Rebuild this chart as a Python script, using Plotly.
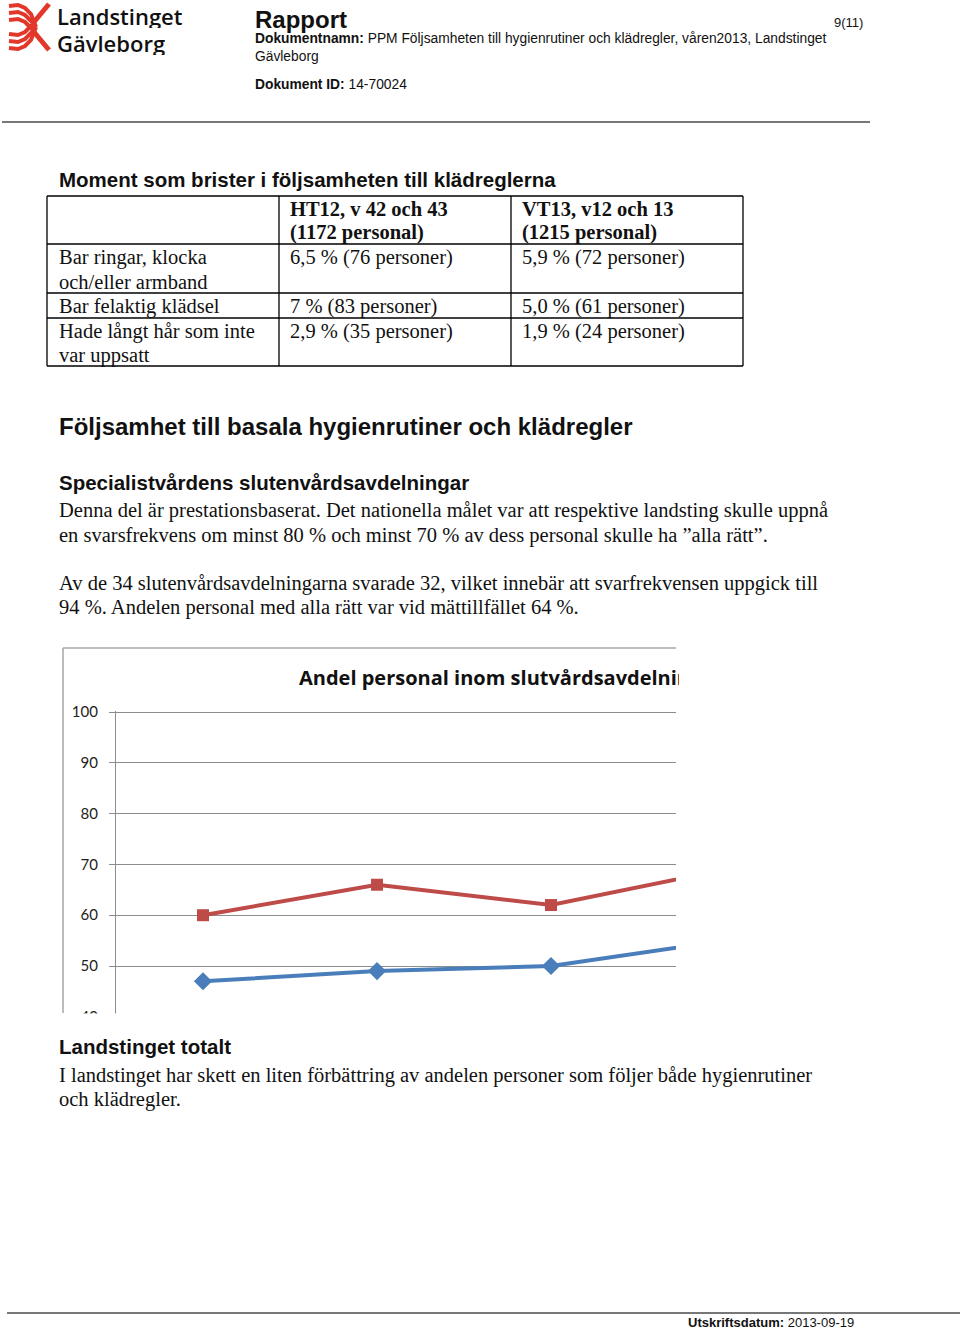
import plotly.graph_objects as go

W, H = 960, 1331

# ---------------- data ----------------
categories = ["Mätning 1", "Mätning 2", "Mätning 3", "Mätning 4"]
series_blue_name = "Följer hygienrutiner och klädregler"
series_blue = [47, 49, 50, 55]
series_red_name = "Följer hygienrutiner"
series_red = [60, 66, 62, 69]
y_ticks = [40, 50, 60, 70, 80, 90, 100]

table_header = [["HT12, v 42 och 43", "(1172 personal)"], ["VT13, v12 och 13", "(1215 personal)"]]
table_rows = [
    (["Bar ringar, klocka", "och/eller armband"], "6,5 % (76 personer)", "5,9 % (72 personer)"),
    (["Bar felaktig klädsel"], "7 % (83 personer)", "5,0 % (61 personer)"),
    (["Hade långt hår som inte", "var uppsatt"], "2,9 % (35 personer)", "1,9 % (24 personer)"),
]

def X(px):
    return px / W

def Y(py):
    return 1 - py / H

SANS = "Liberation Sans, Arial, sans-serif"
SERIF = "Liberation Serif, Times New Roman, serif"
CAL = "Open Sans, Lato, sans-serif"

annotations = []
shapes = []

def txt(x, y, text, size, family=SANS, color="#111", xanchor="left", width=None, height=None, weight=None):
    a = dict(x=X(x), y=Y(y), xref="paper", yref="paper", text=text, showarrow=False,
             xanchor=xanchor, yanchor="middle", align="left",
             font=dict(size=size, family=family, color=color))
    if weight:
        a["font"]["weight"] = weight
    if width:
        a["width"] = width
    if height:
        a["height"] = height
    annotations.append(a)

def line(x0, y0, x1, y1, color="#000", width=1):
    shapes.append(dict(type="line", xref="paper", yref="paper", x0=X(x0), y0=Y(y0), x1=X(x1), y1=Y(y1),
                       line=dict(color=color, width=width)))

def path(pts, color, width):
    d = "M " + " L ".join(f"{X(a):.5f},{Y(b):.5f}" for a, b in pts)
    shapes.append(dict(type="path", xref="paper", yref="paper", path=d, line=dict(color=color, width=width)))

# ---------------- header ----------------
RED = "#E2382B"
# logo symbol (approximate)
for yy in [6, 13, 20]:
    path([(9, yy), (18, yy - 1), (25, yy + 2), (31, yy + 8), (36, 27)], RED, 4)
for yy in [48, 41, 34]:
    path([(9, yy), (18, yy + 1), (25, yy - 2), (31, yy - 8), (36, 27)], RED, 4)
path([(49, 4), (34, 22)], RED, 5)
path([(49, 50), (34, 32)], RED, 5)

txt(55, 15.5, "Landstinget", 22, "Open Sans, sans-serif", "#111", height=25, weight=600)
txt(55, 42, "Gävleborg", 22, "Open Sans, sans-serif", "#111", height=25, weight=600)

txt(253, 19, "<b>Rapport</b>", 24)
txt(253, 39, "<b>Dokumentnamn:</b> PPM Följsamheten till hygienrutiner och klädregler, våren2013, Landstinget", 13.8)
txt(253, 56, "Gävleborg", 13.8)
txt(253, 84, "<b>Dokument ID:</b> 14-70024", 13.8)
txt(832, 23, "9(11)", 13)
line(2, 122, 870, 122, "#777", 2)

# ---------------- table ----------------
txt(57, 180, "<b>Moment som brister i följsamheten till klädreglerna</b>", 20.5)
tx0, tx1, tx2, tx3 = 47, 279, 511, 743
ty = [196, 244, 293, 318, 366]
for yy in ty:
    line(tx0, yy, tx3, yy, "#000", 1.3)
for xx in [tx0, tx1, tx2, tx3]:
    line(xx, ty[0], xx, ty[-1], "#000", 1.3)
for ci, hdr in enumerate(table_header):
    cx = [288, 520][ci]
    for li, t in enumerate(hdr):
        txt(cx, 209 + 24 * li, f"<b>{t}</b>", 20.5, SERIF)
for ri, (lbl, v1, v2) in enumerate(table_rows):
    top = ty[ri + 1]
    for li, t in enumerate(lbl):
        txt(57, top + 14 + 24 * li, t, 20.5, SERIF)
    txt(288, top + 14, v1, 20.5, SERIF)
    txt(520, top + 14, v2, 20.5, SERIF)

# ---------------- body text ----------------
txt(57, 426, "<b>Följsamhet till basala hygienrutiner och klädregler</b>", 24)
txt(57, 482, "<b>Specialistvårdens slutenvårdsavdelningar</b>", 20.5)
txt(57, 511, "Denna del är prestationsbaserat. Det nationella målet var att respektive landsting skulle uppnå", 20.5, SERIF)
txt(57, 535, "en svarsfrekvens om minst 80 % och minst 70 % av dess personal skulle ha ”alla rätt”.", 20.5, SERIF)
txt(57, 583, "Av de 34 slutenvårdsavdelningarna svarade 32, vilket innebär att svarfrekvensen uppgick till", 20.5, SERIF)
txt(57, 607, "94 %. Andelen personal med alla rätt var vid mättillfället 64 %.", 20.5, SERIF)

# ---------------- chart (clipped picture) ----------------
GRID = "#8C8C8C"
line(63, 648, 63, 1013, "#A6A6A6", 1.5)
line(63, 648, 676, 648, "#A6A6A6", 1.5)
txt(297, 677, "<b>Andel personal inom slutvårdsavdelningarna</b>", 20, CAL, "#111", width=380)

px_per_unit = 5.08
y_top_px = 712
y_bottom_val = 38
y_bottom_px = y_top_px + (100 - y_bottom_val) * px_per_unit

fig = go.Figure()
fig.add_trace(go.Scatter(x=categories, y=series_blue, name=series_blue_name, mode="lines+markers",
                         line=dict(color="#4A7EBB", width=4),
                         marker=dict(symbol="diamond", size=14, color="#4A7EBB")))
fig.add_trace(go.Scatter(x=categories, y=series_red, name=series_red_name, mode="lines+markers",
                         line=dict(color="#BE4B48", width=4),
                         marker=dict(symbol="square", size=12, color="#BE4B48")))

fig.update_xaxes(domain=[X(116), X(676)], type="category", range=[-0.5, -0.5 + (676 - 116) / 174],
                 showgrid=False, showticklabels=False, showline=False, zeroline=False, ticks="",
                 automargin=False)
fig.update_yaxes(domain=[Y(y_bottom_px), Y(y_top_px - 1)], range=[y_bottom_val, 100.2],
                 tickvals=y_ticks, ticktext=[str(v) for v in y_ticks],
                 showgrid=True, gridcolor=GRID, gridwidth=1,
                 showline=True, linecolor=GRID, linewidth=1.3,
                 ticks="outside", ticklen=6, tickcolor=GRID, ticklabelstandoff=8,
                 tickfont=dict(family="Lato, sans-serif", size=15, color="#222"), zeroline=False,
                 automargin=False)

# the embedded chart picture ends here in the document
shapes.append(dict(type="rect", xref="paper", yref="paper", x0=0, x1=1, y0=Y(1036), y1=Y(1013.5),
                   fillcolor="white", line=dict(width=0), layer="above"))

# ---------------- after chart ----------------
txt(57, 1046, "<b>Landstinget totalt</b>", 20.5)
txt(57, 1075, "I landstinget har skett en liten förbättring av andelen personer som följer både hygienrutiner", 20.5, SERIF)
txt(57, 1099, "och klädregler.", 20.5, SERIF)

# footer
line(7, 1313, 960, 1313, "#777", 2)
txt(686, 1322, "<b>Utskriftsdatum:</b> 2013-09-19", 13)

fig.update_layout(width=W, height=H, margin=dict(l=0, r=0, t=0, b=0, pad=0, autoexpand=False),
                  paper_bgcolor="white", plot_bgcolor="white", showlegend=False,
                  annotations=annotations, shapes=shapes)

fig.write_html("out.html", config={"displayModeBar": False},
               post_script="document.body.style.margin='0';document.body.style.overflow='hidden';")
